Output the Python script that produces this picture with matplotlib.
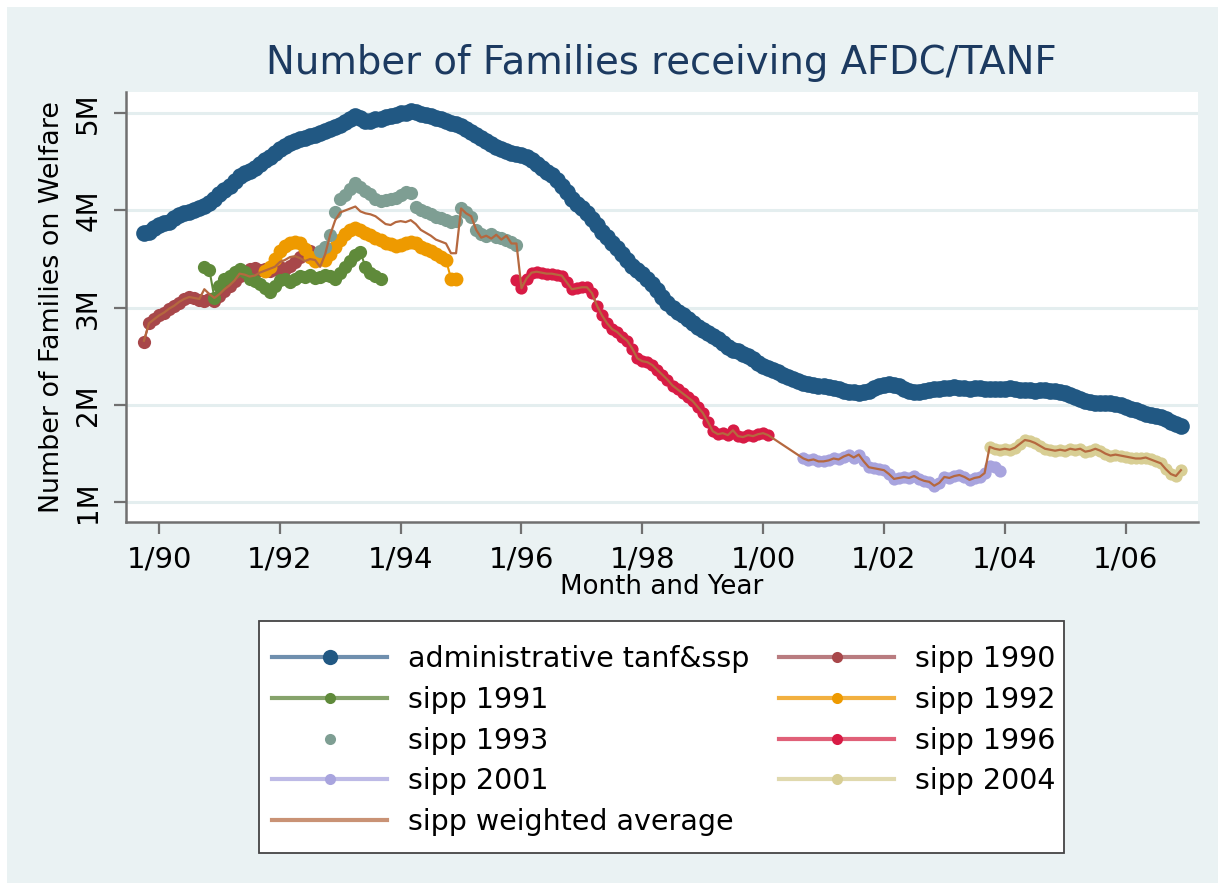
import numpy as np
import matplotlib.pyplot as plt
from matplotlib.lines import Line2D
from matplotlib.patches import Rectangle

# monthly values, millions of families; each series starts at (year, month)
admin_start = (1989, 10)
admin = [3.77, 3.78, 3.82,
         3.85, 3.87, 3.88, 3.92, 3.95, 3.97, 3.98, 4.00, 4.02, 4.05, 4.08, 4.12,
         4.17, 4.21, 4.25, 4.30, 4.35, 4.38, 4.41, 4.44, 4.48, 4.52, 4.55, 4.59,
         4.63, 4.66, 4.69, 4.71, 4.73, 4.74, 4.76, 4.78, 4.80, 4.82, 4.84, 4.86,
         4.88, 4.91, 4.94, 4.97, 4.95, 4.92, 4.92, 4.94, 4.94, 4.96, 4.97, 4.98,
         5.00, 5.00, 5.02, 5.01, 4.99, 4.98, 4.97, 4.95, 4.94, 4.92, 4.90, 4.89,
         4.87, 4.84, 4.81, 4.78, 4.74, 4.71, 4.68, 4.65, 4.63, 4.61, 4.59, 4.58,
         4.57, 4.55, 4.52, 4.48, 4.44, 4.40, 4.36, 4.31, 4.25, 4.19, 4.12, 4.07,
         4.02, 3.97, 3.91, 3.85, 3.78, 3.73, 3.67, 3.61, 3.55, 3.49, 3.43, 3.39,
         3.35, 3.30, 3.24, 3.18, 3.11, 3.05, 3.00, 2.96, 2.92, 2.88, 2.84, 2.80,
         2.77, 2.74, 2.71, 2.68, 2.64, 2.60, 2.57, 2.55, 2.52, 2.50, 2.47, 2.43,
         2.40, 2.38, 2.36, 2.34, 2.31, 2.29, 2.27, 2.25, 2.23, 2.22, 2.21, 2.20,
         2.19, 2.18, 2.17, 2.16, 2.14, 2.13, 2.13, 2.12, 2.13, 2.14, 2.17, 2.20,
         2.21, 2.22, 2.21, 2.19, 2.16, 2.14, 2.13, 2.13, 2.14, 2.15, 2.16, 2.16,
         2.17, 2.17, 2.18, 2.17, 2.17, 2.16, 2.17, 2.17, 2.16, 2.16, 2.16, 2.16,
         2.16, 2.17, 2.16, 2.15, 2.15, 2.15, 2.14, 2.15, 2.15, 2.14, 2.14, 2.13,
         2.12, 2.10, 2.08, 2.06, 2.04, 2.03, 2.02, 2.02, 2.02, 2.02, 2.01, 2.00,
         1.98, 1.96, 1.95, 1.93, 1.91, 1.90, 1.89, 1.88, 1.86, 1.83, 1.80, 1.78]

sipp1990_start = (1989, 10)
sipp1990 = [2.65, 2.84, 2.88,
            2.92, 2.95, 2.99, 3.02, 3.05, 3.09, 3.11, 3.10, 3.08, 3.07, 3.09, 3.07,
            3.12, 3.17, 3.22, 3.27, 3.33, 3.37, 3.40, 3.41, 3.39, 3.40, 3.38, 3.40,
            3.42, 3.40, 3.43, 3.47, 3.52, 3.56, 3.58, 3.55]

sipp1991_start = (1990, 10)
sipp1991 = [3.42, 3.39, 3.10,
            3.22, 3.30, 3.33, 3.37, 3.40, 3.37, 3.30, 3.27, 3.24, 3.20, 3.16, 3.22,
            3.28, 3.30, 3.26, 3.30, 3.33, 3.32, 3.34, 3.31, 3.32, 3.34, 3.33, 3.30,
            3.36, 3.42, 3.48, 3.54, 3.57, 3.42, 3.36, 3.33, 3.30]

sipp1992_start = (1991, 10)
sipp1992 = [3.38, 3.42, 3.50,
            3.58, 3.63, 3.67, 3.68, 3.66, 3.60, 3.52, 3.48, 3.50, 3.49, 3.55, 3.62,
            3.70, 3.76, 3.80, 3.82, 3.80, 3.77, 3.75, 3.72, 3.70, 3.67, 3.65, 3.63,
            3.64, 3.66, 3.68, 3.66, 3.62, 3.60, 3.58, 3.55, 3.52, 3.49, 3.30, 3.30]

sipp1993_start = (1992, 9)
sipp1993 = [3.58, 3.62, 3.75, 3.98,
            4.12, 4.16, 4.22, 4.28, 4.24, 4.20, 4.17, 4.12, 4.10, 4.11, 4.12, 4.13,
            4.16, 4.19, 4.18, 4.03, 4.00, 3.98, 3.96, 3.93, 3.92, 3.90, 3.88, 3.89,
            4.02, 3.98, 3.93, 3.80, 3.76, 3.74, 3.76, 3.73, 3.72, 3.70, 3.68, 3.64]

sipp1996_start = (1995, 12)
sipp1996 = [3.28,
            3.20, 3.30, 3.36, 3.37, 3.36, 3.35, 3.35, 3.34, 3.33, 3.26, 3.19, 3.20,
            3.21, 3.21, 3.15, 3.02, 2.92, 2.84, 2.78, 2.75, 2.70, 2.66, 2.58, 2.48,
            2.45, 2.44, 2.41, 2.36, 2.31, 2.26, 2.20, 2.16, 2.12, 2.08, 2.04, 1.98,
            1.92, 1.83, 1.73, 1.70, 1.71, 1.69, 1.74, 1.68, 1.67, 1.69, 1.68, 1.70,
            1.71, 1.69]

sipp2001_start = (2000, 9)
sipp2001 = [1.45, 1.43, 1.44, 1.42,
            1.42, 1.43, 1.45, 1.44, 1.47, 1.49, 1.46, 1.49, 1.42, 1.36, 1.35, 1.34,
            1.33, 1.29, 1.24, 1.25, 1.26, 1.25, 1.27, 1.24, 1.22, 1.21, 1.17, 1.20,
            1.26, 1.25, 1.27, 1.28, 1.26, 1.23, 1.25, 1.26, 1.30, 1.37, 1.36, 1.32]

sipp2004_start = (2003, 10)
sipp2004 = [1.57, 1.55, 1.54,
            1.55, 1.54, 1.56, 1.60, 1.64, 1.63, 1.61, 1.58, 1.55, 1.54, 1.53, 1.54,
            1.53, 1.55, 1.54, 1.55, 1.52, 1.53, 1.55, 1.53, 1.50, 1.48, 1.49, 1.48,
            1.47, 1.46, 1.45, 1.45, 1.46, 1.44, 1.42, 1.40, 1.34, 1.29, 1.27, 1.33]

# weighted average: own values up to 12/1995, afterwards it follows the single panel in field
wavg_start = (1989, 10)
wavg_early = [2.66, 2.84, 2.88,
              2.92, 2.95, 2.99, 3.02, 3.06, 3.09, 3.11, 3.10, 3.09, 3.19, 3.14, 3.10,
              3.14, 3.19, 3.23, 3.28, 3.35, 3.34, 3.32, 3.33, 3.36, 3.38, 3.40, 3.42,
              3.47, 3.49, 3.52, 3.53, 3.51, 3.48, 3.50, 3.49, 3.42, 3.55, 3.75, 3.90,
              3.98, 4.00, 4.02, 4.04, 3.99, 3.97, 3.96, 3.94, 3.90, 3.86, 3.85, 3.88,
              3.89, 3.88, 3.90, 3.86, 3.80, 3.77, 3.74, 3.70, 3.68, 3.66, 3.56, 3.56,
              4.02, 3.97, 3.94, 3.80, 3.72, 3.74, 3.71, 3.75, 3.70, 3.74, 3.66, 3.66]

tick_years = list(range(1990, 2007, 2))
tick_labels = ['1/%02d' % (y % 100) for y in tick_years]
ytick_vals = [1, 2, 3, 4, 5]
ytick_labels = ['1M', '2M', '3M', '4M', '5M']


def months(start, n):
    y, m = start
    return np.array([y + (m - 1 + i) / 12.0 for i in range(n)])


bg = '#EAF2F3'
fig = plt.figure(figsize=(12.25, 8.9), dpi=100, facecolor='white')
fig.patches.append(Rectangle((0.006, 0.008), 0.988, 0.984, transform=fig.transFigure,
                             facecolor=bg, edgecolor='none', zorder=-10))
ax = fig.add_axes([0.1029, 0.4138, 0.8751, 0.4828])
ax.set_facecolor('white')

styles = [
    ('administrative tanf&ssp', admin_start, admin, '#215883', '#6F8FAE', 12, 11, True),
    ('sipp 1990', sipp1990_start, sipp1990, '#A8474A', '#B97C80', 9.5, 8, True),
    ('sipp 1991', sipp1991_start, sipp1991, '#5F8A3A', '#86A36B', 9.5, 8, True),
    ('sipp 1992', sipp1992_start, sipp1992, '#EE9A00', '#F2B040', 10, 8, True),
    ('sipp 1993', sipp1993_start, sipp1993, '#7E9E93', '#7E9E93', 9.5, 8, False),
    ('sipp 1996', sipp1996_start, sipp1996, '#D81B45', '#E06078', 8.8, 8, True),
    ('sipp 2001', sipp2001_start, sipp2001, '#A8A4DE', '#BDBAE6', 8.8, 8, True),
    ('sipp 2004', sipp2004_start, sipp2004, '#D8CE94', '#E0D9AE', 8.8, 8, True),
]

handles = {}
for label, start, vals, col, lcol, ms, lms, has_line in styles:
    t = months(start, len(vals))
    ax.plot(t, vals, marker='o', ls='-' if has_line else 'none', color=col,
            lw=1.5, ms=ms, mew=0)
    handles[label] = Line2D([], [], color=lcol, lw=3 if has_line else 0,
                            marker='o', ms=lms, mfc=col, mec=col, mew=0)

# weighted average line
w_t = np.concatenate([months(wavg_start, len(wavg_early)),
                      months(sipp1996_start, len(sipp1996))[1:],
                      months(sipp2001_start, len(sipp2001))[:37],
                      months(sipp2004_start, len(sipp2004))])
w_v = np.concatenate([wavg_early, sipp1996[1:], sipp2001[:37], sipp2004])
ax.plot(w_t, w_v, color='#B5683F', lw=1.6)
handles['sipp weighted average'] = Line2D([], [], color='#C99275', lw=3)

ax.set_xlim(1989.454, 2007.20)
ax.set_ylim(0.80, 5.217)
ax.set_xticks(tick_years)
ax.set_xticklabels(tick_labels, fontsize=21)
ax.set_yticks(ytick_vals)
ax.set_yticklabels(ytick_labels, fontsize=20, rotation=90, va='center', ha='right')
ax.grid(axis='y', color='#E4EEEF', lw=2.2)
ax.set_axisbelow(True)
for s in ['top', 'right']:
    ax.spines[s].set_visible(False)
for s in ['left', 'bottom']:
    ax.spines[s].set_color('#707070')
    ax.spines[s].set_linewidth(1.8)
ax.tick_params(length=8.6, width=1.6, color='#707070', pad=8.6)

ax.set_xlabel('Month and Year', fontsize=18.8)
ax.xaxis.set_label_coords(0.5, -0.122)
ax.set_ylabel('Number of Families on Welfare', fontsize=19.4)
ax.yaxis.set_label_coords(-0.057, 0.5)

fig.text(661 / 1225, 1 - 74 / 890, 'Number of Families receiving AFDC/TANF',
         ha='center', va='baseline', fontsize=27.8, color='#1C3A60')

# legend box drawn separately: Stata pads more vertically than horizontally
fig.patches.append(Rectangle((259 / 1225, 1 - 853 / 890), 805 / 1225, 232 / 890,
                             transform=fig.transFigure, facecolor='white',
                             edgecolor='#444444', lw=1.3, zorder=1))
order = ['administrative tanf&ssp', 'sipp 1991', 'sipp 1993', 'sipp 2001',
         'sipp weighted average', 'sipp 1990', 'sipp 1992', 'sipp 1996', 'sipp 2004']
leg = fig.legend([handles[k] for k in order], order, ncol=2, loc='upper left',
                 bbox_to_anchor=(272 / 1225, 1 - 645 / 890), borderaxespad=0,
                 fontsize=20.5, handlelength=4.05, handletextpad=0.72,
                 columnspacing=1.05, labelspacing=0.45, borderpad=0,
                 frameon=False)
leg.set_zorder(5)

fig.savefig('out.png', dpi=100, facecolor=fig.get_facecolor())
